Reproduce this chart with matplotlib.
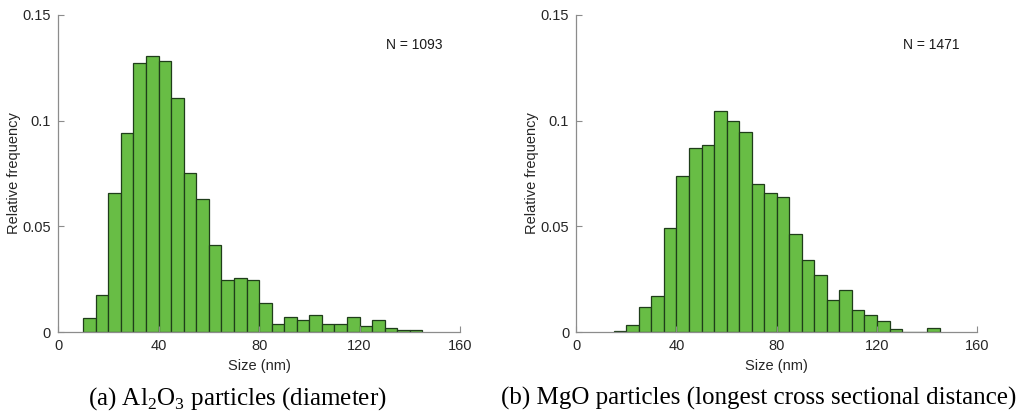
import matplotlib
matplotlib.use("Agg")
import matplotlib.pyplot as plt
import numpy as np

plt.rcParams['font.family'] = 'Liberation Sans'
plt.rcParams['mathtext.fontset'] = 'custom'
plt.rcParams['mathtext.rm'] = 'Liberation Serif'

# bin left edges (nm) and relative frequencies, bin width 5 nm
al_edges = np.arange(10, 145, 5)
al_freq = [0.0064, 0.0174, 0.0659, 0.0942, 0.1272, 0.1308, 0.1281, 0.1107,
           0.0750, 0.0631, 0.0412, 0.0247, 0.0256, 0.0247, 0.0137, 0.0037,
           0.0073, 0.0055, 0.0082, 0.0037, 0.0037, 0.0073, 0.0027, 0.0055,
           0.0018, 0.0009, 0.0009]
al_n = 1093

mg_edges = np.arange(15, 145, 5)
mg_freq = [0.0007, 0.0034, 0.0116, 0.0170, 0.0490, 0.0740, 0.0870, 0.0884,
           0.1047, 0.0999, 0.0945, 0.0700, 0.0659, 0.0639, 0.0462, 0.0340,
           0.0272, 0.0150, 0.0197, 0.0102, 0.0082, 0.0054, 0.0014, 0.0,
           0.0, 0.0020]
mg_n = 1471

captions = [r"(a) Al$_\mathrm{2}$O$_\mathrm{3}$ particles (diameter)",
            "(b) MgO particles (longest cross sectional distance)"]

fig = plt.figure(figsize=(10.18, 4.15), dpi=100)
ax1 = fig.add_axes([0.057, 0.2, 0.395, 0.764])
ax2 = fig.add_axes([0.566, 0.2, 0.394, 0.764])

for ax, edges, freq, n in [(ax1, al_edges, al_freq, al_n),
                           (ax2, mg_edges, mg_freq, mg_n)]:
    ax.bar(edges, freq, width=5, align='edge', color='#68bd45',
           edgecolor='#1f3d1a', linewidth=0.9)
    ax.set_xlim(0, 160)
    ax.set_ylim(0, 0.15)
    ax.set_xticks([0, 40, 80, 120, 160])
    ax.set_yticks([0, 0.05, 0.1, 0.15])
    ax.set_yticklabels(['0', '0.05', '0.1', '0.15'])
    for s in ['top', 'right']:
        ax.spines[s].set_visible(False)
    for s in ['left', 'bottom']:
        ax.spines[s].set_color('#8c8c8c')
        ax.spines[s].set_linewidth(0.9)
    ax.tick_params(direction='in', length=4, width=0.8, color='#8c8c8c',
                   labelsize=10.5, labelcolor='#262626', pad=5)
    ax.set_xlabel('Size (nm)', fontsize=10.5, color='#262626', labelpad=4)
    ax.set_ylabel('Relative frequency', fontsize=10.5, color='#262626', labelpad=1)
    ax.text(0.885, 0.905, 'N = %d' % n, transform=ax.transAxes,
            ha='center', va='center', fontsize=10, color='#1a1a1a')

fig.text(0.233, 0.04, captions[0], ha='center', va='center',
         fontsize=18, family='Liberation Serif')
fig.text(0.745, 0.04, captions[1], ha='center', va='center',
         fontsize=18, family='Liberation Serif')

fig.savefig('out.png', dpi=100)
